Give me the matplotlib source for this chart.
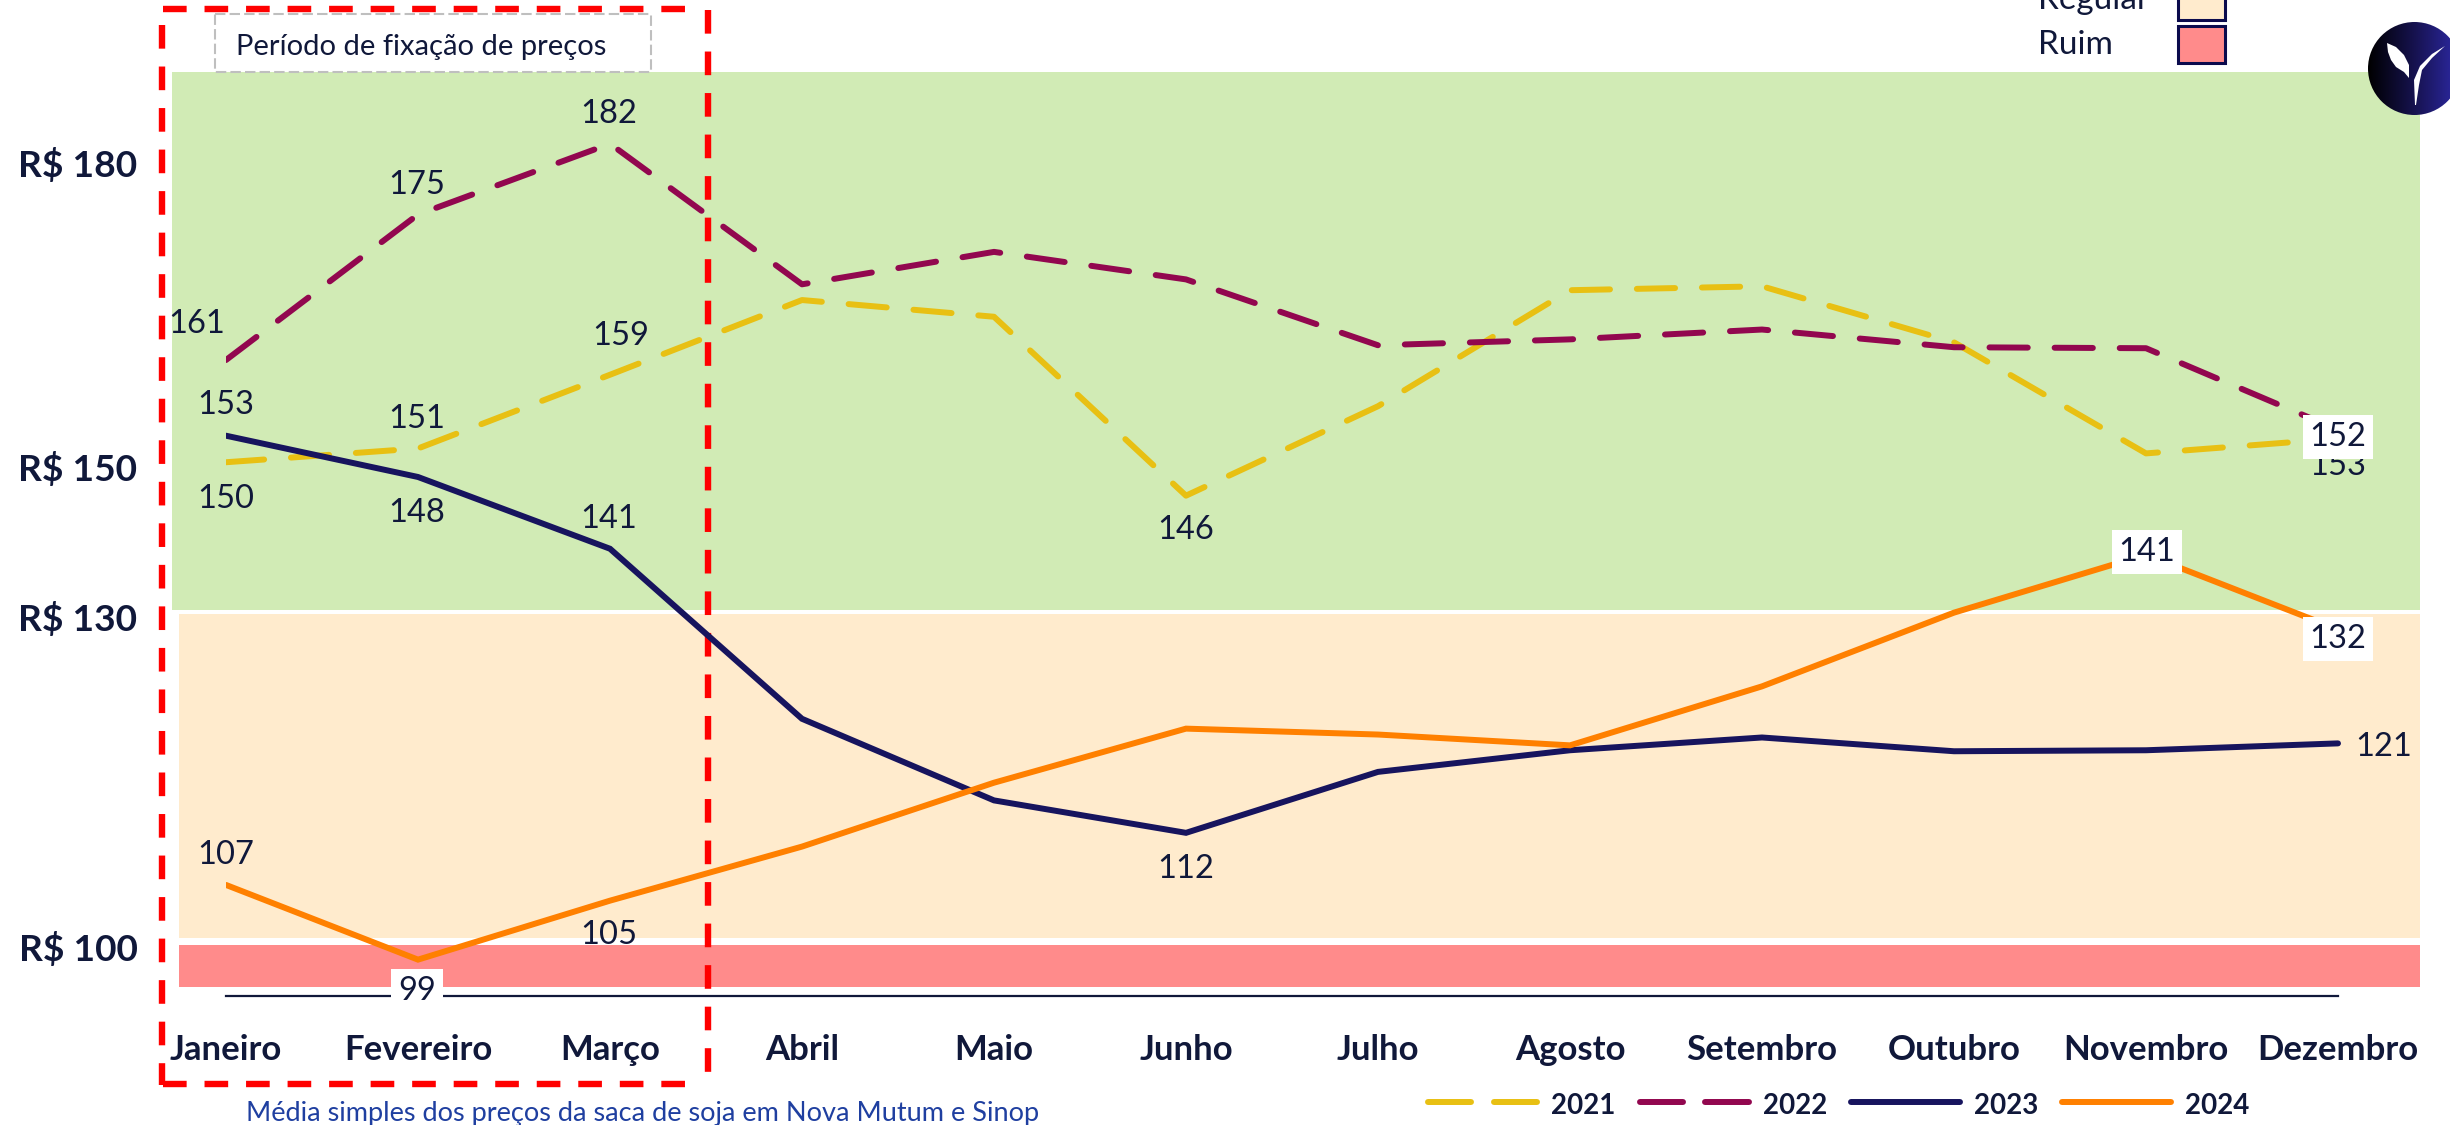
import numpy as np
import matplotlib
matplotlib.use('Agg')
import matplotlib.pyplot as plt
from matplotlib.patches import Rectangle, Circle, Polygon

plt.rcParams['font.family'] = ['Lato', 'DejaVu Sans']

meses = ['Janeiro', 'Fevereiro', 'Março', 'Abril', 'Maio', 'Junho', 'Julho',
         'Agosto', 'Setembro', 'Outubro', 'Novembro', 'Dezembro']
v2021 = [149.6, 151, 158.5, 166.1, 164.4, 146.2, 155.3, 167.1, 167.5, 161.8, 150.5, 152]
v2022 = [160, 174.8, 182, 167.7, 171, 168.2, 161.5, 162.1, 163.1, 161.3, 161.2, 152.9]
v2023 = [152.3, 148.1, 140.8, 123.5, 115.2, 111.9, 118.1, 120.3, 121.6, 120.2, 120.3, 121]
v2024 = [106.6, 99, 105, 110.5, 117, 122.5, 121.9, 120.8, 126.8, 134.3, 140.2, 132.6]

y_labels = ['R$ 180', 'R$ 150', 'R$ 130', 'R$ 100']
y_label_pos = [165, 469, 619, 949]

# rotulos: texto, x, y (em pixels da figura), caixa branca
rotulos = [('182', 609, 114, False), ('175', 417, 185, False), ('161', 197, 324, False),
           ('153', 226, 405, False), ('150', 226, 499, False), ('151', 417, 419, False),
           ('148', 417, 513, False), ('159', 621, 336, False), ('141', 609, 519, False),
           ('146', 1186, 530, False), ('107', 226, 855, False), ('105', 609, 935, False),
           ('112', 1186, 869, False), ('121', 2384, 747, False), ('153', 2338, 466, False),
           ('99', 417, 991, True), ('141', 2147, 552, True), ('132', 2338, 639, True),
           ('152', 2338, 437, True)]

W, H = 2450, 1125
azul = '#10183A'
amarelo = '#E8C013'
vinho = '#92074F'
marinho = '#17145E'
laranja = '#FF8000'
tr_dash = (0, (6.4, 4.5))

fig = plt.figure(figsize=(24.5, 11.25), dpi=100, facecolor='white')

# fundo, em pixels
bg = fig.add_axes([0, 0, 1, 1], zorder=0)
bg.set_xlim(0, W)
bg.set_ylim(H, 0)
bg.axis('off')
bg.add_patch(Rectangle((172, 72), 2248, 538, fc='#D1EBB5', ec='none'))
bg.add_patch(Rectangle((179, 614), 2241, 324, fc='#FFEBCD', ec='none'))
bg.add_patch(Rectangle((179, 945), 2241, 42, fc='#FF8B8B', ec='none'))
bg.plot([226, 2338], [996, 996], color=azul, lw=1.6)

# caixa vermelha tracejada
red = dict(color='#FF0000', lw=4.6, dashes=(3.7, 2.8), dash_capstyle='butt')
bg.plot([163, 695], [8.5, 8.5], **red)
bg.plot([162, 162], [25, 1085], **red)
bg.plot([708, 708], [10, 1085], **red)
bg.plot([163, 695], [1084, 1084], **red)

# caixa do periodo
bg.add_patch(Rectangle((215, 14), 436, 58, fc='white', ec='#BFBFBF', lw=1.5, ls=(0, (5, 2))))
bg.text(236, 47, 'Período de fixação de preços', color=azul, fontsize=21, va='center', ha='left')

# linhas
ax = fig.add_axes([0, 0, 1, 1], zorder=1)
ax.patch.set_alpha(0)
ax.set_xlim(-226 / 192, (W - 226) / 192)
ax.set_ylim(182 - (H - 143.75) / 9.83, 182 + 143.75 / 9.83)
ax.axis('off')
x = np.arange(len(meses))
for vals, cor, ls in [(v2021, amarelo, tr_dash), (v2022, vinho, tr_dash),
                      (v2023, marinho, '-'), (v2024, laranja, '-')]:
    ln, = ax.plot(x, vals, color=cor, lw=4.3, ls=ls, dash_capstyle='round',
                  solid_capstyle='round', solid_joinstyle='miter')
    ln.set_clip_path(Rectangle((0, 0), 20, 300, transform=ax.transData))

# textos por cima
top = fig.add_axes([0, 0, 1, 1], zorder=2)
top.patch.set_alpha(0)
top.set_xlim(0, W)
top.set_ylim(H, 0)
top.axis('off')

for lab, yy in zip(y_labels, y_label_pos):
    top.text(78, yy, lab, color=azul, fontsize=26.7, fontweight='bold', ha='center', va='center')

for m, i in zip(meses, x):
    top.text(226 + 192 * i, 1050, m, color=azul, fontsize=25, fontweight='bold', ha='center', va='center')

for txt, px, py, caixa in rotulos:
    bbox = dict(fc='white', ec='none', pad=5) if caixa else None
    top.text(px, py, txt, color=azul, fontsize=23.5, ha='center', va='center', bbox=bbox)

top.text(246, 1114, 'Média simples dos preços da saca de soja em Nova Mutum e Sinop',
         color='#1F3FA0', fontsize=19.5, ha='left', va='center')

# legenda de cima
top.text(2038, 0, 'Regular', color=azul, fontsize=24, ha='left', va='center')
top.text(2038, 45, 'Ruim', color=azul, fontsize=24, ha='left', va='center')
top.add_patch(Rectangle((2178, -20), 47, 40, fc='#FFEBCD', ec='#0B0B4D', lw=2.2))
top.add_patch(Rectangle((2178, 26), 47, 37, fc='#FF8B8B', ec='#0B0B4D', lw=2.2))

# legenda de baixo
leg = dict(lw=4.3, solid_capstyle='round')
top.plot([1428, 1471], [1102, 1102], color=amarelo, **leg)
top.plot([1494, 1537], [1102, 1102], color=amarelo, **leg)
top.plot([1640, 1683], [1102, 1102], color=vinho, **leg)
top.plot([1705, 1749], [1102, 1102], color=vinho, **leg)
top.plot([1851, 1960], [1102, 1102], color=marinho, **leg)
top.plot([2062, 2171], [1102, 1102], color=laranja, **leg)
for ano, px in [('2021', 1583), ('2022', 1795), ('2023', 2006), ('2024', 2217)]:
    top.text(px, 1106, ano, color=azul, fontsize=20, fontweight='bold', ha='center', va='center')

# logo
grad = np.linspace(0, 1, 256).reshape(1, -1)
cmap = matplotlib.colors.LinearSegmentedColormap.from_list('logo', ['#000000', '#16124F', '#2E2AA8'])
im = top.imshow(grad, extent=(2368, 2461, 115, 22), cmap=cmap, aspect='auto', zorder=3)
im.set_clip_path(Circle((2414.5, 68.5), 46.5, transform=top.transData))
top.set_xlim(0, W)
top.set_ylim(H, 0)
top.add_patch(Polygon([(2387, 43), (2396, 47), (2404, 55), (2409, 65), (2409, 78),
                       (2404, 72), (2396, 67), (2391, 60), (2388, 52)], fc='white', ec='none', zorder=4))
top.add_patch(Polygon([(2445, 46), (2432, 54), (2420, 66), (2414, 80), (2415, 105),
                       (2416, 105), (2419, 85), (2422, 70), (2432, 58)], fc='white', ec='none', zorder=4))

fig.savefig('out.png', dpi=100)
